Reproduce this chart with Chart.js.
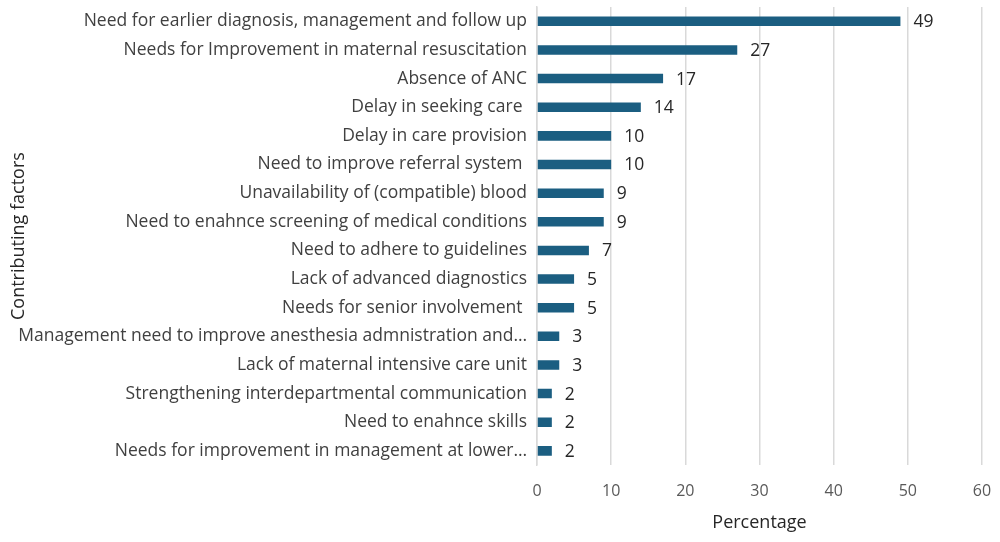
<!DOCTYPE html>
<html>
<head>
<meta charset="utf-8">
<script src="https://cdn.jsdelivr.net/npm/chart.js@4.4.1/dist/chart.umd.min.js"></script>
<style>
  html, body { margin: 0; padding: 0; background: #fff; }
  #wrap { width: 1000px; height: 542px; position: relative; }
</style>
</head>
<body>
<div id="wrap"><canvas id="factorChart"></canvas></div>
<script>
// categories, top to bottom
const factors = [
    'Need for earlier diagnosis, management and follow up',
    'Needs for Improvement in maternal resuscitation',
    'Absence of ANC',
    'Delay in seeking care ',
    'Delay in care provision',
    'Need to improve referral system ',
    'Unavailability of (compatible) blood',
    'Need to enahnce screening of medical conditions',
    'Need to adhere to guidelines',
    'Lack of advanced diagnostics',
    'Needs for senior involvement ',
    'Management need to improve anesthesia admnistration and\u2026',
    'Lack of maternal intensive care unit',
    'Strengthening interdepartmental communication',
    'Need to enahnce skills',
    'Needs for improvement in management at lower\u2026'
];
const percentages = [49, 27, 17, 14, 10, 10, 9, 9, 7, 5, 5, 3, 3, 2, 2, 2];
const xTicks = [0, 10, 20, 30, 40, 50, 60];

const fontFamily = '"Open Sans", sans-serif';

// draw the value next to each bar
const valueLabels = {
    id: 'valueLabels',
    afterDatasetsDraw(chart) {
        const ctx = chart.ctx;
        const meta = chart.getDatasetMeta(0);
        ctx.save();
        ctx.font = '17.5px ' + fontFamily;
        ctx.fillStyle = '#262626';
        ctx.textAlign = 'left';
        ctx.textBaseline = 'middle';
        meta.data.forEach(function (bar, i) {
            ctx.fillText(String(percentages[i]), bar.x + 13, bar.y + 1);
        });
        ctx.restore();
    }
};

const ctx = document.getElementById('factorChart').getContext('2d');
new Chart(ctx, {
    type: 'bar',
    data: {
        labels: factors,
        datasets: [{
            label: 'Percentage',
            data: percentages,
            backgroundColor: '#1b5e81',
            borderWidth: 0,
            barPercentage: 0.37,
            categoryPercentage: 0.9
        }]
    },
    plugins: [valueLabels],
    options: {
        indexAxis: 'y',
        responsive: true,
        maintainAspectRatio: false,
        animation: false,
        layout: { padding: { top: 7, right: 18, bottom: 8, left: 8 } },
        plugins: {
            legend: { display: false },
            tooltip: { enabled: false }
        },
        scales: {
            x: {
                min: xTicks[0],
                max: xTicks[xTicks.length - 1],
                afterBuildTicks: function (axis) {
                    axis.ticks = xTicks.map(v => ({ value: v }));
                },
                afterFit: function (axis) {
                    axis.paddingLeft = 0;
                    axis.paddingRight = 0;
                },
                grid: { color: '#d9d9d9', lineWidth: 1.5, drawTicks: false },
                border: { display: false },
                ticks: {
                    color: '#595959',
                    font: { family: fontFamily, size: 16 },
                    padding: 17
                },
                title: {
                    display: true,
                    text: 'Percentage',
                    color: '#262626',
                    font: { family: fontFamily, size: 18 },
                    padding: { top: -6, bottom: 0 }
                }
            },
            y: {
                afterFit: function (axis) {
                    axis.width = 529;
                    axis.paddingTop = 0;
                    axis.paddingBottom = 0;
                },
                grid: { display: false, drawTicks: false },
                border: { display: true, color: '#d9d9d9', width: 1.5 },
                ticks: {
                    color: '#404040',
                    font: { family: fontFamily, size: 17.5 },
                    padding: 10,
                    autoSkip: false
                },
                title: {
                    display: true,
                    text: 'Contributing factors',
                    color: '#262626',
                    font: { family: fontFamily, size: 18 },
                    padding: { top: 0, bottom: 2 }
                }
            }
        }
    }
});
</script>
</body>
</html>
